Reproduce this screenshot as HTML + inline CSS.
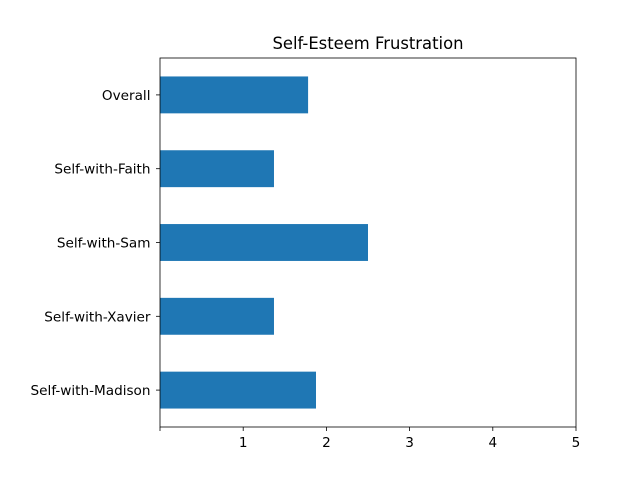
<!DOCTYPE html>
<html><head><meta charset="utf-8"><style>body{margin:0;background:#fff}svg{display:block;font-family:"DejaVu Sans","Liberation Sans",sans-serif}</style></head>
<body>
<svg id="chart" width="640" height="480"></svg>
<script>
const categories = ["Overall","Self-with-Faith","Self-with-Sam","Self-with-Xavier","Self-with-Madison"];
const values = [1.78, 1.37, 2.5, 1.37, 1.875];
const xTicks = [0,1,2,3,4,5];
const xTickLabels = ["","1","2","3","4","5"];
const ns="http://www.w3.org/2000/svg";
const svg=document.getElementById('chart');
const L=160,R=576,T=58,B=427;
const xs=v=>L+(v-0)/(5-0)*(R-L);
const n=categories.length;
const band=(B-T)/n;
const yc=i=>T+band*(i+0.5);
function mk(tag,attrs){const e=document.createElementNS(ns,tag);for(const k in attrs)e.setAttribute(k,attrs[k]);svg.appendChild(e);return e;}
categories.forEach((c,i)=>{
  const r=mk('rect',{x:xs(0),y:yc(i)-band*0.25,width:xs(values[i])-xs(0),height:band*0.5,fill:'#1f77b4'});
  
  
  const tk=mk('line',{x1:L,x2:L-4,y1:yc(i),y2:yc(i),stroke:'#000','stroke-width':0.8});
  
  
  const t=mk('text',{x:L-9.5,y:yc(i)+5,'text-anchor':'end','font-size':13.6});
  t.textContent=c;
  
  
});
xTicks.forEach((v,i)=>{
  const tk=mk('line',{x1:xs(v),x2:xs(v),y1:B,y2:B+4,stroke:'#000','stroke-width':0.8});
  
  
  const t=mk('text',{x:xs(v),y:B+20,'text-anchor':'middle','font-size':13.6});
  t.textContent=xTickLabels[i];
  
  
});
const fr=mk('rect',{x:L,y:T,width:R-L,height:B-T,fill:'none',stroke:'#000','stroke-width':0.8});


const ti=mk('text',{x:(L+R)/2,y:T-9,'text-anchor':'middle','font-size':16.4});
ti.textContent='Self-Esteem Frustration';


</script>
</body></html>
